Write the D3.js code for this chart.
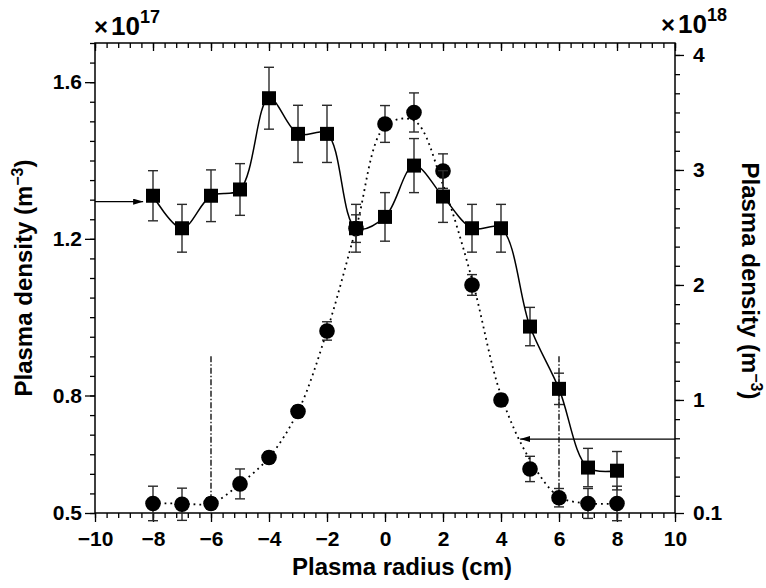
<!DOCTYPE html>
<html>
<head>
<meta charset="utf-8">
<script src="https://cdn.jsdelivr.net/npm/d3@7"></script>
<style>
  body { margin: 0; background: #fff; }
  text { font-family: "Liberation Sans", Arial, Helvetica, sans-serif; font-weight: bold; fill: #000; }
</style>
</head>
<body>
<div id="graph"></div>
<script>
// radius positions (cm)
const radius = [-8, -7, -6, -5, -4, -3, -2, -1, 0, 1, 2, 3, 4, 5, 6, 7, 8];

// squares, left axis (x 1e17 m^-3)
const squareDensity = [1.31, 1.227, 1.31, 1.326, 1.559, 1.468, 1.468, 1.227, 1.256, 1.387, 1.308, 1.227, 1.227, 0.976, 0.817, 0.616, 0.608];
const squareErr = [0.064, 0.061, 0.066, 0.066, 0.079, 0.073, 0.073, 0.061, 0.062, 0.069, 0.066, 0.061, 0.061, 0.049, 0.040, 0.049, 0.049];

// circles, right axis (x 1e18 m^-3)
const circleDensity = [0.10, 0.093, 0.10, 0.27, 0.50, 0.90, 1.60, 2.49, 3.40, 3.50, 2.99, 2.00, 1.00, 0.40, 0.15, 0.10, 0.10];
const circleErr = [0.15, 0.14, 0.05, 0.13, 0.05, 0.05, 0.08, 0.12, 0.16, 0.17, 0.15, 0.09, 0.05, 0.11, 0.08, 0.13, 0.15];
// dotted fit line, right axis
const circleFit = [0.10, 0.10, 0.10, 0.27, 0.50, 0.90, 1.60, 2.49, 3.38, 3.43, 2.87, 2.05, 1.04, 0.48, 0.16, 0.10, 0.10];

// axis ticks
const xTicks = [-10, -8, -6, -4, -2, 0, 2, 4, 6, 8, 10];
const leftTicks = [0.5, 0.8, 1.2, 1.6];
const leftTickLabels = ['0.5', '0.8', '1.2', '1.6'];
const rightTicks = [0.017, 1, 2, 3, 4];
const rightTickLabels = ['0.1', '1', '2', '3', '4'];

// markers: vertical dash-dot lines and arrows
const vLineX = [-6, 6];
const leftArrow = { y: 1.295, from: -10, to: -8.34 };
const rightArrow = { y: 0.66, from: 10, to: 4.66 };

const w = 766;
const h = 588;
const margin = { top: 43, right: 91, bottom: 75, left: 95 };

const svg = d3.select('#graph')
    .append('svg')
    .attr('width', w)
    .attr('height', h);

const xScale = d3.scaleLinear().domain([-10, 10]).range([margin.left, w - margin.right]);
const yLeft = d3.scaleLinear().domain([0.5, 1.7]).range([h - margin.bottom, margin.top]);
const yRight = d3.scaleLinear().domain([0.017, 4.104]).range([h - margin.bottom, margin.top]);

const x0 = margin.left, x1 = w - margin.right, yB = h - margin.bottom, yT = margin.top;

// arrow marker
svg.append('defs').append('marker')
    .attr('id', 'head')
    .attr('viewBox', '0 0 10 6')
    .attr('refX', 10)
    .attr('refY', 3)
    .attr('markerWidth', 10)
    .attr('markerHeight', 6)
    .attr('markerUnits', 'userSpaceOnUse')
    .attr('orient', 'auto')
    .append('path')
    .attr('d', 'M0,0 L10,3 L0,6 Z')
    .attr('fill', '#000');

// ---- axes ----
const xMinor = d3.range(-10, 10.001, 0.4).map(v => +v.toFixed(2));
function styleAxis(g) {
    g.select('.domain').remove();
    g.selectAll('line').attr('stroke', '#000').attr('stroke-width', 1.3);
}

svg.append('g').attr('transform', 'translate(0,' + yB + ')')
    .call(d3.axisBottom(xScale).tickValues(xMinor).tickSize(5).tickFormat(''))
    .call(styleAxis);
svg.append('g').attr('transform', 'translate(0,' + yB + ')')
    .call(d3.axisBottom(xScale).tickValues(xTicks).tickSize(9).tickPadding(9)
        .tickFormat(d => d < 0 ? '\u2212' + Math.abs(d) : d))
    .call(styleAxis)
    .selectAll('text').style('font-size', '21px');

svg.append('g').attr('transform', 'translate(0,' + yT + ')')
    .call(d3.axisBottom(xScale).tickValues(xMinor).tickSize(5).tickFormat(''))
    .call(styleAxis);
svg.append('g').attr('transform', 'translate(0,' + yT + ')')
    .call(d3.axisBottom(xScale).tickValues(xTicks).tickSize(8).tickFormat(''))
    .call(styleAxis);

const leftMinor = d3.range(0.5, 1.7001, 0.05).map(v => +v.toFixed(2));
svg.append('g').attr('transform', 'translate(' + x0 + ',0)')
    .call(d3.axisLeft(yLeft).tickValues(leftMinor).tickSize(5).tickFormat(''))
    .call(styleAxis);
svg.append('g').attr('transform', 'translate(' + x0 + ',0)')
    .call(d3.axisLeft(yLeft).tickValues(leftTicks).tickSize(10).tickPadding(3)
        .tickFormat((d, i) => leftTickLabels[i]))
    .call(styleAxis)
    .selectAll('text').style('font-size', '21px');

const rightMinor = d3.range(4, 0.1, -1 / 6);
svg.append('g').attr('transform', 'translate(' + x1 + ',0)')
    .call(d3.axisRight(yRight).tickValues(rightMinor).tickSize(5).tickFormat(''))
    .call(styleAxis);
svg.append('g').attr('transform', 'translate(' + x1 + ',0)')
    .call(d3.axisRight(yRight).tickValues(rightTicks).tickSize(9).tickPadding(9)
        .tickFormat((d, i) => rightTickLabels[i]))
    .call(styleAxis)
    .selectAll('text').style('font-size', '21px');

// frame
svg.append('rect')
    .attr('x', x0).attr('y', yT)
    .attr('width', x1 - x0).attr('height', yB - yT)
    .attr('fill', 'none').attr('stroke', '#000').attr('stroke-width', 1.5);

// ---- reference lines ----
svg.selectAll('.vline')
    .data(vLineX)
    .enter()
    .append('line')
    .attr('class', 'vline')
    .attr('x1', d => xScale(d)).attr('x2', d => xScale(d))
    .attr('y1', yLeft(0.9)).attr('y2', yRight(0.1))
    .attr('stroke', '#000').attr('stroke-width', 1.3)
    .attr('stroke-dasharray', '6,2,1.5,2');

svg.append('line')
    .attr('x1', xScale(leftArrow.from)).attr('x2', xScale(leftArrow.to))
    .attr('y1', yLeft(leftArrow.y)).attr('y2', yLeft(leftArrow.y))
    .attr('stroke', '#000').attr('stroke-width', 1.2)
    .attr('marker-end', 'url(#head)');
svg.append('line')
    .attr('x1', xScale(rightArrow.from)).attr('x2', xScale(rightArrow.to))
    .attr('y1', yRight(rightArrow.y)).attr('y2', yRight(rightArrow.y))
    .attr('stroke', '#000').attr('stroke-width', 1.2)
    .attr('marker-end', 'url(#head)');

// ---- circles series (right axis) ----
const circles = radius.map((r, i) => ({ r: r, v: circleDensity[i], e: circleErr[i], f: circleFit[i] }));
const squares = radius.map((r, i) => ({ r: r, v: squareDensity[i], e: squareErr[i] }));

function errorBars(data, yScale, cls) {
    const g = svg.append('g').attr('class', cls)
        .attr('stroke', '#2a2a2a').attr('stroke-width', 1.4);
    g.selectAll('.bar').data(data).enter().append('line')
        .attr('x1', d => xScale(d.r)).attr('x2', d => xScale(d.r))
        .attr('y1', d => yScale(d.v - d.e)).attr('y2', d => yScale(d.v + d.e));
    g.selectAll('.capT').data(data).enter().append('line')
        .attr('x1', d => xScale(d.r) - 5).attr('x2', d => xScale(d.r) + 5)
        .attr('y1', d => yScale(d.v + d.e)).attr('y2', d => yScale(d.v + d.e));
    g.selectAll('.capB').data(data).enter().append('line')
        .attr('x1', d => xScale(d.r) - 5).attr('x2', d => xScale(d.r) + 5)
        .attr('y1', d => yScale(d.v - d.e)).attr('y2', d => yScale(d.v - d.e));
}

errorBars(circles, yRight, 'circle-err');

svg.append('path')
    .datum(circles)
    .attr('fill', 'none')
    .attr('stroke', '#000')
    .attr('stroke-width', 1.8)
    .attr('stroke-dasharray', '1.8,4')
    .attr('d', d3.line().x(d => xScale(d.r)).y(d => yRight(d.f)).curve(d3.curveCatmullRom));

svg.selectAll('.dot')
    .data(circles)
    .enter()
    .append('circle')
    .attr('class', 'dot')
    .attr('cx', d => xScale(d.r))
    .attr('cy', d => yRight(d.v))
    .attr('r', 7.8)
    .attr('fill', '#000');

// ---- squares series (left axis) ----
errorBars(squares, yLeft, 'square-err');

svg.append('path')
    .datum(squares)
    .attr('fill', 'none')
    .attr('stroke', '#000')
    .attr('stroke-width', 1.5)
    .attr('d', d3.line().x(d => xScale(d.r)).y(d => yLeft(d.v)).curve(d3.curveCatmullRom));

svg.selectAll('.sq')
    .data(squares)
    .enter()
    .append('rect')
    .attr('class', 'sq')
    .attr('x', d => xScale(d.r) - 7)
    .attr('y', d => yLeft(d.v) - 7)
    .attr('width', 14)
    .attr('height', 14)
    .attr('fill', '#000');

// ---- titles ----
svg.append('text')
    .attr('x', 402).attr('y', 575)
    .attr('text-anchor', 'middle')
    .style('font-size', '24px')
    .text('Plasma radius (cm)');

function densityTitle(transform) {
    const t = svg.append('text')
        .attr('transform', transform)
        .attr('text-anchor', 'middle')
        .style('font-size', '24px');
    t.append('tspan').text('Plasma density (m');
    t.append('tspan').attr('dy', -9).style('font-size', '16px').text('\u22123');
    t.append('tspan').attr('dy', 9).text(')');
}
densityTitle('translate(32,278) rotate(-90)');
densityTitle('translate(742,281) rotate(90)');

function powerLabel(x, y, exp) {
    const t = svg.append('text').attr('x', x).attr('y', y);
    t.append('tspan').style('font-size', '24px').text('\u00d7');
    t.append('tspan').attr('dx', 3).style('font-size', '26px').text('10');
    t.append('tspan').attr('dy', -12).style('font-size', '18px').text(exp);
}
powerLabel(94, 35, '17');
powerLabel(661, 33, '18');
</script>
</body>
</html>
